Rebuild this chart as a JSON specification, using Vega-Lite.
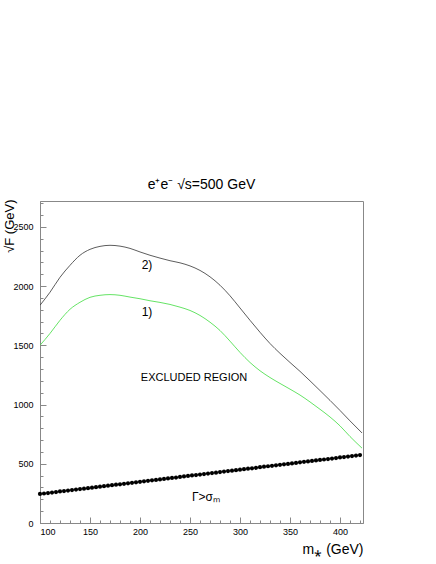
{
  "$schema": "https://vega.github.io/schema/vega-lite/v6.json",
  "autosize": "none",
  "width": 323,
  "height": 322,
  "padding": {"left": 40, "top": 201, "right": 73, "bottom": 41},
  "background": "white",
  "config": {
    "view": {"stroke": "#888888", "strokeWidth": 1},
    "font": "Liberation Sans",
    "axis": {"grid": false, "domainColor": "#888888", "tickColor": "#888888", "labelColor": "black", "labelFont": "Liberation Sans", "labelFontSize": 9, "titleFont": "Liberation Sans", "titleFontWeight": "normal", "titleColor": "black"}
  },
  "title": {"text": "e⁺e⁻ √s=500 GeV", "fontSize": 14, "fontWeight": "normal", "font": "Liberation Sans", "offset": 7, "anchor": "middle"},
  "datasets": {
    "curves": [
      {"m": 100, "F": 1838, "c": "2)"}, {"m": 110, "F": 1948, "c": "2)"}, {"m": 120, "F": 2074, "c": "2)"}, {"m": 130, "F": 2175, "c": "2)"}, {"m": 140, "F": 2260, "c": "2)"}, {"m": 150, "F": 2310, "c": "2)"}, {"m": 160, "F": 2335, "c": "2)"}, {"m": 170, "F": 2344, "c": "2)"}, {"m": 180, "F": 2337, "c": "2)"}, {"m": 190, "F": 2318, "c": "2)"}, {"m": 200, "F": 2288, "c": "2)"}, {"m": 210, "F": 2260, "c": "2)"}, {"m": 220, "F": 2236, "c": "2)"}, {"m": 230, "F": 2214, "c": "2)"}, {"m": 240, "F": 2196, "c": "2)"}, {"m": 250, "F": 2170, "c": "2)"}, {"m": 260, "F": 2132, "c": "2)"}, {"m": 270, "F": 2078, "c": "2)"}, {"m": 280, "F": 2007, "c": "2)"}, {"m": 290, "F": 1918, "c": "2)"}, {"m": 300, "F": 1815, "c": "2)"}, {"m": 310, "F": 1711, "c": "2)"}, {"m": 320, "F": 1610, "c": "2)"}, {"m": 330, "F": 1515, "c": "2)"}, {"m": 340, "F": 1432, "c": "2)"}, {"m": 350, "F": 1355, "c": "2)"}, {"m": 360, "F": 1280, "c": "2)"}, {"m": 370, "F": 1200, "c": "2)"}, {"m": 380, "F": 1118, "c": "2)"}, {"m": 390, "F": 1035, "c": "2)"}, {"m": 400, "F": 950, "c": "2)"}, {"m": 410, "F": 862, "c": "2)"}, {"m": 422, "F": 760, "c": "2)"},
      {"m": 100, "F": 1500, "c": "1)"}, {"m": 110, "F": 1600, "c": "1)"}, {"m": 120, "F": 1711, "c": "1)"}, {"m": 130, "F": 1804, "c": "1)"}, {"m": 140, "F": 1863, "c": "1)"}, {"m": 150, "F": 1905, "c": "1)"}, {"m": 160, "F": 1922, "c": "1)"}, {"m": 170, "F": 1928, "c": "1)"}, {"m": 180, "F": 1922, "c": "1)"}, {"m": 190, "F": 1907, "c": "1)"}, {"m": 200, "F": 1893, "c": "1)"}, {"m": 210, "F": 1876, "c": "1)"}, {"m": 220, "F": 1862, "c": "1)"}, {"m": 230, "F": 1845, "c": "1)"}, {"m": 240, "F": 1822, "c": "1)"}, {"m": 250, "F": 1794, "c": "1)"}, {"m": 260, "F": 1752, "c": "1)"}, {"m": 270, "F": 1695, "c": "1)"}, {"m": 280, "F": 1625, "c": "1)"}, {"m": 290, "F": 1535, "c": "1)"}, {"m": 300, "F": 1440, "c": "1)"}, {"m": 310, "F": 1355, "c": "1)"}, {"m": 320, "F": 1285, "c": "1)"}, {"m": 330, "F": 1228, "c": "1)"}, {"m": 340, "F": 1178, "c": "1)"}, {"m": 350, "F": 1130, "c": "1)"}, {"m": 360, "F": 1080, "c": "1)"}, {"m": 370, "F": 1022, "c": "1)"}, {"m": 380, "F": 960, "c": "1)"}, {"m": 390, "F": 895, "c": "1)"}, {"m": 400, "F": 820, "c": "1)"}, {"m": 410, "F": 730, "c": "1)"}, {"m": 422, "F": 632, "c": "1)"}
    ],
    "dots": [
      {"m": 100, "F": 245}, {"m": 104, "F": 249}, {"m": 108, "F": 253}, {"m": 112, "F": 257}, {"m": 116, "F": 261}, {"m": 120, "F": 266}, {"m": 124, "F": 270}, {"m": 128, "F": 274}, {"m": 132, "F": 278}, {"m": 136, "F": 282}, {"m": 140, "F": 286}, {"m": 144, "F": 290}, {"m": 148, "F": 294}, {"m": 152, "F": 298}, {"m": 156, "F": 302}, {"m": 160, "F": 307}, {"m": 164, "F": 311}, {"m": 168, "F": 315}, {"m": 172, "F": 319}, {"m": 176, "F": 323}, {"m": 180, "F": 327}, {"m": 184, "F": 331}, {"m": 188, "F": 335}, {"m": 192, "F": 339}, {"m": 196, "F": 343}, {"m": 200, "F": 348}, {"m": 204, "F": 352}, {"m": 208, "F": 356}, {"m": 212, "F": 360}, {"m": 216, "F": 364}, {"m": 220, "F": 368}, {"m": 224, "F": 372}, {"m": 228, "F": 376}, {"m": 232, "F": 380}, {"m": 236, "F": 384}, {"m": 240, "F": 389}, {"m": 244, "F": 393}, {"m": 248, "F": 397}, {"m": 252, "F": 401}, {"m": 256, "F": 405}, {"m": 260, "F": 409}, {"m": 264, "F": 413}, {"m": 268, "F": 417}, {"m": 272, "F": 421}, {"m": 276, "F": 425}, {"m": 280, "F": 430}, {"m": 284, "F": 434}, {"m": 288, "F": 438}, {"m": 292, "F": 442}, {"m": 296, "F": 446}, {"m": 300, "F": 450}, {"m": 304, "F": 454}, {"m": 308, "F": 458}, {"m": 312, "F": 462}, {"m": 316, "F": 466}, {"m": 320, "F": 471}, {"m": 324, "F": 475}, {"m": 328, "F": 479}, {"m": 332, "F": 483}, {"m": 336, "F": 487}, {"m": 340, "F": 491}, {"m": 344, "F": 495}, {"m": 348, "F": 499}, {"m": 352, "F": 503}, {"m": 356, "F": 507}, {"m": 360, "F": 512}, {"m": 364, "F": 516}, {"m": 368, "F": 520}, {"m": 372, "F": 524}, {"m": 376, "F": 528}, {"m": 380, "F": 532}, {"m": 384, "F": 536}, {"m": 388, "F": 540}, {"m": 392, "F": 544}, {"m": 396, "F": 548}, {"m": 400, "F": 553}, {"m": 404, "F": 557}, {"m": 408, "F": 561}, {"m": 412, "F": 565}, {"m": 416, "F": 569}, {"m": 420, "F": 573}
    ],
    "labels": [
      {"m": 207, "F": 2175, "t": "2)", "s": 12},
      {"m": 207, "F": 1779, "t": "1)", "s": 12},
      {"m": 254, "F": 1223, "t": "EXCLUDED REGION", "s": 11},
      {"m": 266, "F": 219, "t": "Γ>σₘ", "s": 12}
    ]
  },
  "resolve": {"axis": {"x": "independent", "y": "independent"}},
  "layer": [
    {
      "data": {"name": "curves"},
      "transform": [{"filter": "datum.c === '2)'"}],
      "mark": {"type": "line", "color": "#333333", "strokeWidth": 0.8, "interpolate": "monotone", "clip": true},
      "encoding": {
        "x": {"field": "m", "type": "quantitative", "scale": {"domain": [100, 423], "nice": false, "zero": false},
          "axis": {"orient": "bottom", "values": [100, 150, 200, 250, 300, 350, 400], "format": "d", "tickSize": -6, "labelPadding": 10, "title": "m⁎ (GeV)", "titleFontSize": 14, "titleAnchor": "end", "titleAlign": "right", "titleX": 323, "titleY": 26, "titleBaseline": "middle"}},
        "y": {"field": "F", "type": "quantitative", "scale": {"domain": [0, 2718], "nice": false},
          "axis": {"orient": "left", "values": [0, 500, 1000, 1500, 2000, 2500], "format": "d", "tickSize": -6, "labelPadding": 13, "title": "√F (GeV)", "titleFontSize": 13, "titleAngle": 270, "titleAlign": "right", "titleBaseline": "middle", "titleX": -31, "titleY": -2}}
      }
    },
    {
      "data": {"name": "curves"},
      "transform": [{"filter": "datum.c === '1)'"}],
      "mark": {"type": "line", "color": "#3ddc3d", "strokeWidth": 0.8, "interpolate": "monotone", "clip": true},
      "encoding": {
        "x": {"field": "m", "type": "quantitative",
          "axis": {"orient": "bottom", "values": [110, 120, 130, 140, 160, 170, 180, 190, 210, 220, 230, 240, 260, 270, 280, 290, 310, 320, 330, 340, 360, 370, 380, 390, 410, 420], "tickSize": -3, "labels": false, "domain": false, "title": null}},
        "y": {"field": "F", "type": "quantitative",
          "axis": {"orient": "left", "values": [100, 200, 300, 400, 600, 700, 800, 900, 1100, 1200, 1300, 1400, 1600, 1700, 1800, 1900, 2100, 2200, 2300, 2400, 2600, 2700], "tickSize": -3, "labels": false, "domain": false, "title": null}}
      }
    },
    {
      "data": {"name": "dots"},
      "mark": {"type": "point", "filled": true, "color": "black", "size": 18, "opacity": 1},
      "encoding": {
        "x": {"field": "m", "type": "quantitative", "axis": null},
        "y": {"field": "F", "type": "quantitative", "axis": null}
      }
    },
    {
      "data": {"name": "labels"},
      "mark": {"type": "text", "color": "black", "font": "Liberation Sans", "align": "center", "baseline": "middle"},
      "encoding": {
        "x": {"field": "m", "type": "quantitative", "axis": null},
        "y": {"field": "F", "type": "quantitative", "axis": null},
        "text": {"field": "t"},
        "size": {"field": "s", "type": "quantitative", "scale": null, "legend": null}
      }
    }
  ]
}
